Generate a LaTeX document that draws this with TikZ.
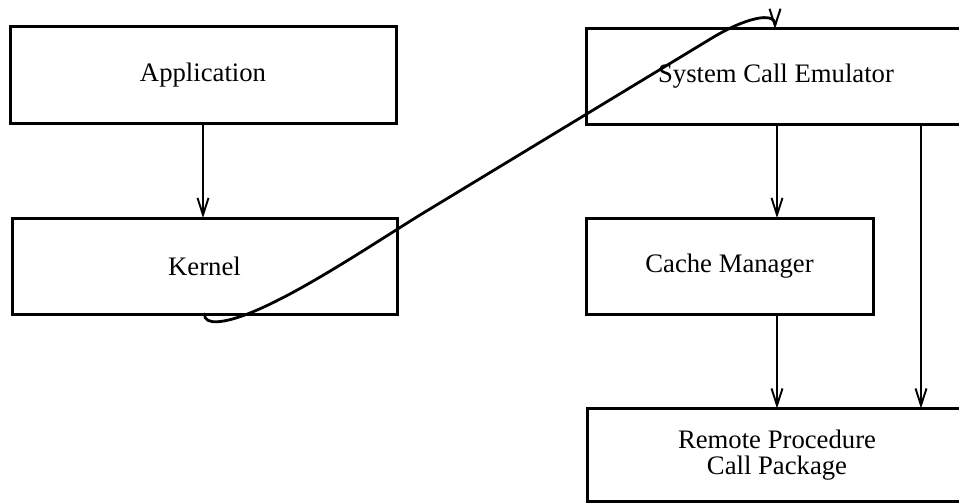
\documentclass[tikz,border=0pt]{standalone}
\usepackage{fontspec}
\setmainfont{Liberation Serif}
\usetikzlibrary{arrows.meta}
\begin{document}
\begin{tikzpicture}[x=1pt,y=-1pt,
  blk/.style={draw, line width=3pt, inner sep=0pt, outer sep=0pt, align=center,
    font=\fontsize{26.7}{25.5}\selectfont},
  flow/.style={line width=1.9pt, -{Straight Barb[length=17pt,width=11pt,line width=1.9pt]}},
  loopline/.style={line width=2.8pt, line cap=round, -{Straight Barb[length=17pt,width=11pt,line width=2pt]}}]
\useasboundingbox (0,0) rectangle (959,503);
\clip (0,0) rectangle (959,503);
\fill[white] (0,0) rectangle (959,503);

\node[blk, minimum width=386pt, minimum height=96pt] (app) at (203,75) {Application};
\node[blk, minimum width=385pt, minimum height=96pt] (kernel) at (204.5,266) {Kernel};
\node[blk, minimum width=380pt, minimum height=95pt] (sce) at (776,76.5) {System Call Emulator};
\node[blk, minimum width=287pt, minimum height=96pt] (cache) at (729.5,266) {Cache Manager};
\node[blk, minimum width=380pt, minimum height=93pt] (rpc) at (777,455) {Remote Procedure\\Call Package};
\coordinate (rx) at (921,0);

\draw[flow] (app.south) -- (app.south |- kernel.north);
\draw[flow] (sce.south -| rpc.north) -- (cache.north -| rpc.north);
\draw[flow] (cache.south -| rpc.north) -- (rpc.north);
\draw[flow] (sce.south -| rx) -- (rpc.north -| rx);

\coordinate (tip) at (775,29);
\draw[loopline] (kernel.south) .. controls (204,326) and (225,323) .. (250,313)
  .. controls (300,293) and (370,246) .. (420,215)
  -- (712,38)
  .. controls (745,18) and (775,11) .. (tip);
\end{tikzpicture}
\end{document}
